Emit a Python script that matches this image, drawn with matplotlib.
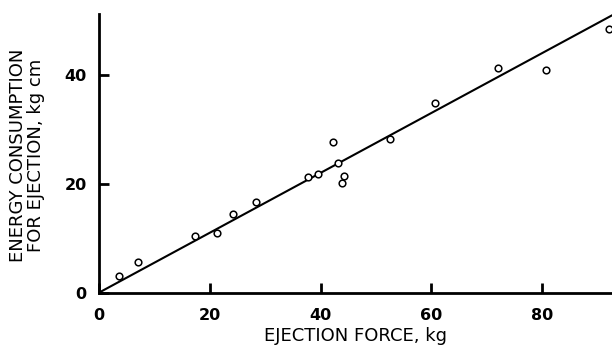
import matplotlib
matplotlib.use("Agg")
import matplotlib.pyplot as plt

plt.rcParams['font.family'] = ['DejaVu Sans']

# measured points (ejection force kg, energy kg cm)
force = [3.5, 7.1, 17.3, 21.2, 24.1, 28.3, 37.7, 39.6, 42.2, 43.2,
         44.2, 43.8, 52.5, 60.6, 72.0, 80.6, 92.1]
energy = [3.0, 5.6, 10.5, 11.0, 14.5, 16.6, 21.3, 21.9, 27.8, 23.9,
          21.5, 20.2, 28.3, 34.9, 41.3, 41.1, 48.5]

# fitted straight line
fit_x = [0, 93]
fit_y = [0, 51.3]

x_ticks = [0, 20, 40, 60, 80]
y_ticks = [0, 20, 40]

fig = plt.figure(figsize=(6.12, 3.45), dpi=100)
ax = fig.add_axes([0.162, 0.152, 0.838, 0.807])

ax.plot(fit_x, fit_y, color='black', lw=1.5, zorder=2)
ax.plot(force, energy, 'o', mfc='white', mec='black', mew=1.1, ms=4.8, zorder=3)

ax.set_xlim(0, 92.6)
ax.set_ylim(0, 51.3)

for s in ['top', 'right']:
    ax.spines[s].set_visible(False)
for s in ['left', 'bottom']:
    ax.spines[s].set_linewidth(2.0)

ax.set_xticks(x_ticks)
ax.set_yticks(y_ticks)
ax.tick_params(direction='in', length=7, width=2.0, labelsize=11.5)
ax.tick_params(axis='x', pad=11)
ax.tick_params(axis='y', pad=9)
for lab in ax.get_xticklabels() + ax.get_yticklabels():
    lab.set_fontweight('bold')

ax.set_xlabel('EJECTION FORCE, kg', fontsize=13, labelpad=3)
ax.set_ylabel('ENERGY CONSUMPTION\nFOR EJECTION, kg cm', fontsize=13,
              linespacing=0.95)
ax.yaxis.set_label_coords(-0.106, 0.494)

fig.savefig('out.png', dpi=100)
